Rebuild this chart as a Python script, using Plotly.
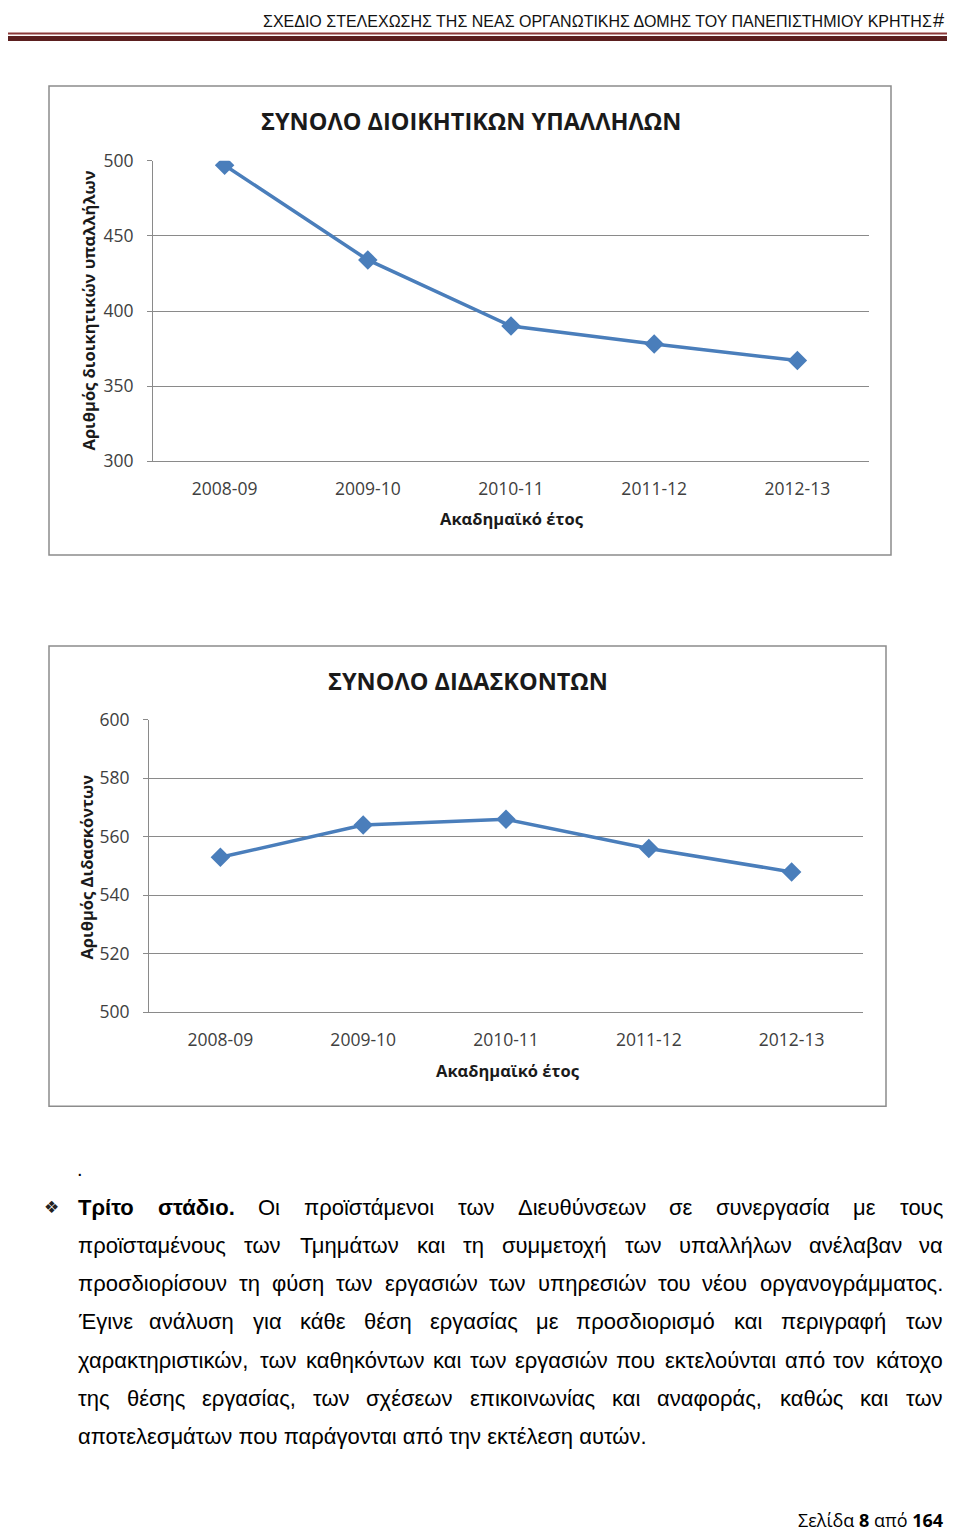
import plotly.graph_objects as go
import unicodedata

# ---------------- data ----------------
years = ["2008-09", "2009-10", "2010-11", "2011-12", "2012-13"]
admin_staff = [497, 434, 390, 378, 367]
teaching_staff = [553, 564, 566, 556, 548]

title1 = "ΣΥΝΟΛΟ ΔΙΟΙΚΗΤΙΚΩΝ ΥΠΑΛΛΗΛΩΝ"
title2 = "ΣΥΝΟΛΟ ΔΙΔΑΣΚΟΝΤΩΝ"
ytitle1 = "Αριθμός διοικητικών υπαλλήλων"
ytitle2 = "Αριθμός Διδασκόντων"
xtitle = "Ακαδημαϊκό έτος"
header = "ΣΧΕΔΙΟ ΣΤΕΛΕΧΩΣΗΣ ΤΗΣ ΝΕΑΣ ΟΡΓΑΝΩΤΙΚΗΣ ΔΟΜΗΣ ΤΟΥ ΠΑΝΕΠΙΣΤΗΜΙΟΥ ΚΡΗΤΗΣ"

# paragraph, already broken into the lines of the page (the first two words are bold)
para_lines = [
    "Τρίτο στάδιο. Οι προϊστάμενοι των Διευθύνσεων σε συνεργασία με τους",
    "προϊσταμένους των Τμημάτων και τη συμμετοχή των υπαλλήλων ανέλαβαν να",
    "προσδιορίσουν τη φύση των εργασιών των υπηρεσιών του νέου οργανογράμματος.",
    "Έγινε ανάλυση για κάθε θέση εργασίας με προσδιορισμό και περιγραφή των",
    "χαρακτηριστικών, των καθηκόντων και των εργασιών που εκτελούνται από τον κάτοχο",
    "της θέσης εργασίας, των σχέσεων επικοινωνίας και αναφοράς, καθώς και των",
]
last_line = "αποτελεσμάτων που παράγονται από την εκτέλεση αυτών."
bold_words = {(0, 0), (0, 1)}

W, H = 960, 1530
# empirical page placement correction (page offset / scale seen in the rendered shot)
X_OFF, Y_OFF, Y_SCALE = 7.0, 18.0, 0.986


def px(x):
    return (x - X_OFF) / W


def py(y):
    return 1 - ((y - Y_OFF) / Y_SCALE) / H


CHART_FONT = "Open Sans"
BODY_FONT = "Liberation Sans"
BLUE = "#4a7ebb"
GRID = "#8a8a8a"

fig = go.Figure()

for xa, ya, vals in (("x", "y", admin_staff), ("x2", "y2", teaching_staff)):
    fig.add_trace(go.Scatter(
        x=years, y=vals, mode="lines+markers", xaxis=xa, yaxis=ya,
        line=dict(color=BLUE, width=3.5),
        marker=dict(symbol="diamond", size=15, color=BLUE, line=dict(color=BLUE, width=0)),
        showlegend=False, hoverinfo="x+y"))

tickfont = dict(family=CHART_FONT, size=17.5, color="#404040")

common_x = dict(type="category", categoryorder="array", categoryarray=years, range=[-0.5, 4.5],
                showgrid=False, zeroline=False, showline=True, linecolor=GRID, linewidth=1,
                ticks="", tickfont=tickfont, ticklabelstandoff=12, fixedrange=True)
common_y = dict(showgrid=True, gridcolor=GRID, gridwidth=1, zeroline=False, showline=True,
                linecolor=GRID, linewidth=1, ticks="outside", ticklen=5, tickcolor=GRID,
                tickfont=tickfont, ticklabelstandoff=10, fixedrange=True)

fig.update_layout(
    width=W, height=H, autosize=False,
    margin=dict(l=0, r=0, t=0, b=0),
    paper_bgcolor="white", plot_bgcolor="white",
    xaxis=dict(domain=[px(152), px(868)], anchor="y", **common_x),
    yaxis=dict(domain=[py(459), py(158)], anchor="x", range=[300, 500], dtick=50, **common_y),
    xaxis2=dict(domain=[px(148), px(862)], anchor="y2", **common_x),
    yaxis2=dict(domain=[py(1011), py(718)], anchor="x2", range=[500, 600], dtick=20, **common_y),
)

shapes = []
# header rules
shapes.append(dict(type="rect", xref="paper", yref="paper", x0=px(0), x1=px(946), y0=py(31.5), y1=py(29.5),
                   line=dict(width=0), fillcolor="#8c3a3a"))
shapes.append(dict(type="rect", xref="paper", yref="paper", x0=px(0), x1=px(946), y0=py(38), y1=py(33),
                   line=dict(width=0), fillcolor="#5b1f1f"))
# chart frames
shapes.append(dict(type="rect", xref="paper", yref="paper", x0=px(48), x1=px(890), y0=py(553), y1=py(83),
                   line=dict(color="#8c8c8c", width=1.5), fillcolor="rgba(0,0,0,0)", layer="below"))
shapes.append(dict(type="rect", xref="paper", yref="paper", x0=px(48), x1=px(885), y0=py(1105), y1=py(644),
                   line=dict(color="#8c8c8c", width=1.5), fillcolor="rgba(0,0,0,0)", layer="below"))
fig.update_layout(shapes=shapes)

ann = []


def text(t, x, y, size, family, color="black", xanchor="center", yanchor="middle", angle=0):
    ann.append(dict(text=t, x=px(x), y=py(y), xref="paper", yref="paper", showarrow=False,
                    xanchor=xanchor, yanchor=yanchor, textangle=angle, borderpad=0, borderwidth=0,
                    font=dict(family=family, size=size, color=color)))


# header
text(header, 931, 18, 16, "Liberation Sans", color="#111111", xanchor="right")
text("#", 938, 17, 20, "Liberation Sans", color="#111111")

# chart 1 texts
text("<b>" + title1 + "</b>", 470, 118, 23.5, CHART_FONT, color="#1a1a1a")
text("<b>" + ytitle1 + "</b>", 88, 308, 16.5, CHART_FONT, color="#1a1a1a", angle=-90)
text("<b>" + xtitle + "</b>", 511, 516, 16.5, CHART_FONT, color="#1a1a1a")

# chart 2 texts
text("<b>" + title2 + "</b>", 467, 679, 23.5, CHART_FONT, color="#1a1a1a")
text("<b>" + ytitle2 + "</b>", 86, 866, 16.5, CHART_FONT, color="#1a1a1a", angle=-90)
text("<b>" + xtitle + "</b>", 507, 1069, 16.5, CHART_FONT, color="#1a1a1a")

# ---- justified paragraph (approximate Arial advance widths, em units) ----
ADV = {"α": .579, "β": .568, "γ": .5, "δ": .556, "ε": .445, "ζ": .441, "η": .556, "θ": .556,
       "ι": .222, "κ": .5, "λ": .5, "μ": .576, "ν": .5, "ξ": .448, "ο": .556, "π": .687,
       "ρ": .570, "ς": .483, "σ": .617, "τ": .437, "υ": .546, "φ": .721, "χ": .525, "ψ": .713,
       "ω": .780, "Τ": .611, "Ο": .778, "Δ": .668, "Ε": .667, ",": .278, ".": .278}


def word_width(w, size, bold=False):
    tot = 0.0
    for ch in w:
        base = unicodedata.normalize("NFD", ch)[0]
        tot += ADV.get(base, 0.556)
        if ch == "Έ":
            tot += 0.08
    return tot * size * (1.08 if bold else 1.0)


BODY_SIZE = 22
LEFT, RIGHT = 77, 942
line_y = [1207, 1245, 1283, 1321, 1360, 1398, 1436]

text(".", 79, 1168, 20, BODY_FONT)
text("❖", 50, 1206, 17, "DejaVu Sans", color="#222222")
for li, (line, yv) in enumerate(zip(para_lines, line_y)):
    words = line.split(" ")
    widths = [word_width(w, BODY_SIZE, (li, i) in bold_words) for i, w in enumerate(words)]
    gap = (RIGHT - LEFT - sum(widths)) / (len(words) - 1)
    xcur = LEFT
    for i, (w, wd) in enumerate(zip(words, widths)):
        label = "<b>" + w + "</b>" if (li, i) in bold_words else w
        if i == 0:
            text(label, LEFT, yv, BODY_SIZE, BODY_FONT, xanchor="left")
        elif i == len(words) - 1:
            text(label, RIGHT, yv, BODY_SIZE, BODY_FONT, xanchor="right")
        else:
            text(label, xcur + wd / 2, yv, BODY_SIZE, BODY_FONT)
        xcur += wd + gap
text(last_line, LEFT, line_y[-1], BODY_SIZE, BODY_FONT, xanchor="left")

# footer
text("Σελίδα <b>8</b> από <b>164</b>", 942, 1520, 18, CHART_FONT, xanchor="right")

fig.update_layout(annotations=ann)

fig.write_html("out.html")
